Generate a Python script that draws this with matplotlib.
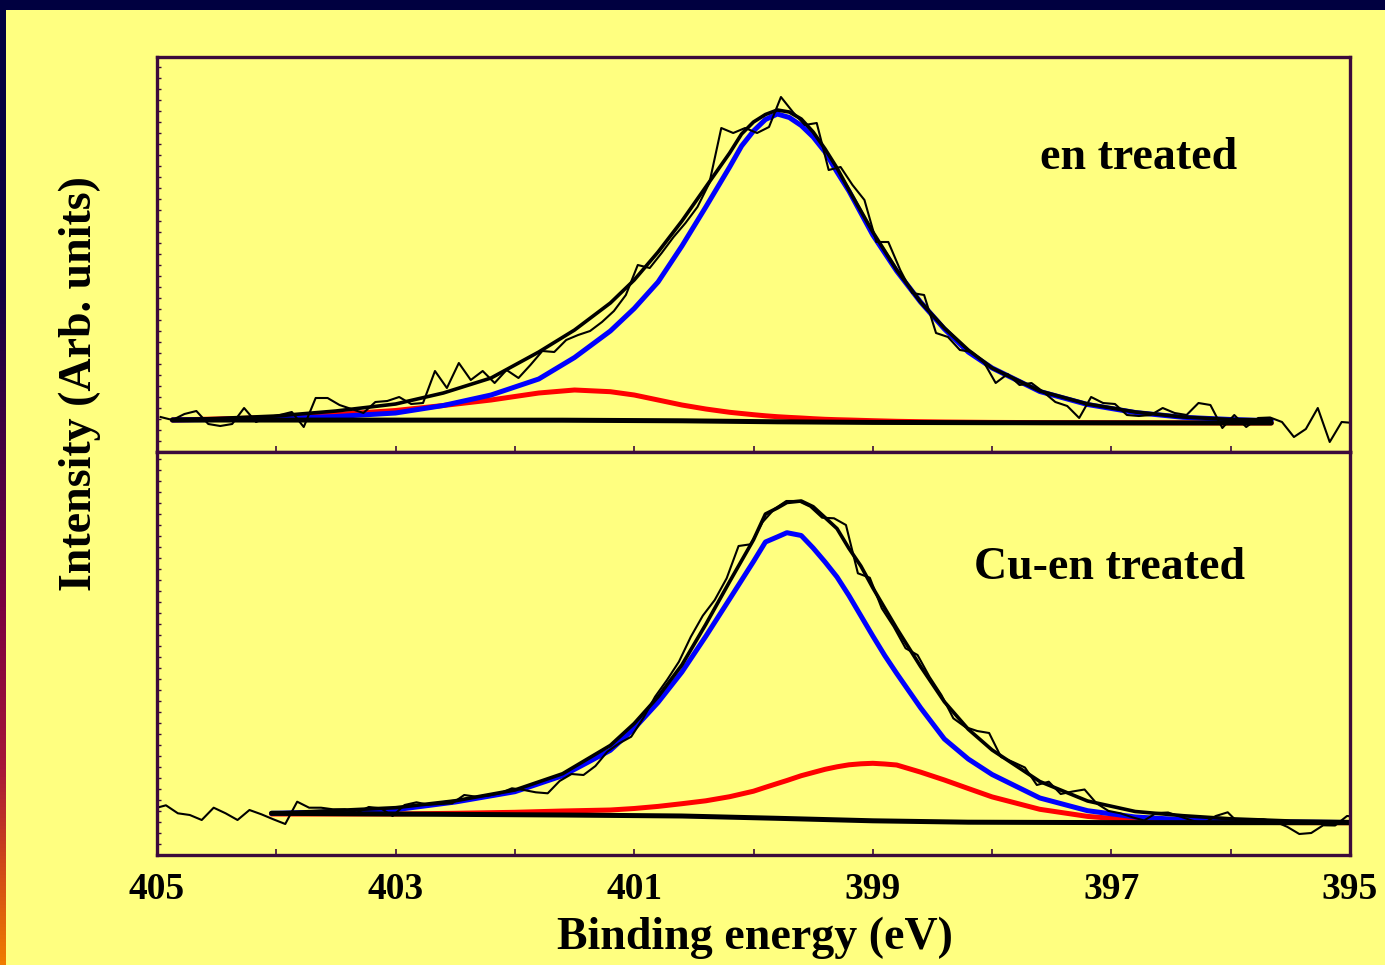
import numpy as np
import matplotlib
matplotlib.use('Agg')
from matplotlib import pyplot as plt
from matplotlib.colors import LinearSegmentedColormap
from matplotlib.patches import Rectangle

# ---- data (binding energy in eV, intensity in arb. units) ----

# en treated: raw spectrum, 0.1 eV steps starting at 404.97 eV
top_raw_start = 404.97
top_raw = [35, 32, 38, 41, 28, 26, 28, 44, 30, 35,
           37, 40, 25, 54, 54, 47, 43, 39, 50, 51,
           55, 48, 49, 81, 64, 89, 72, 81, 69, 82,
           74, 87, 101, 100, 112, 117, 121, 130, 141, 157,
           187, 184, 199, 215, 229, 245, 269, 324, 319, 324,
           319, 325, 355, 340, 327, 329, 282, 285, 267, 252,
           210, 210, 182, 159, 157, 119, 115, 102, 100, 90,
           69, 78, 67, 69, 60, 50, 46, 34, 55, 49,
           48, 37, 36, 37, 44, 39, 37, 49, 47, 24,
           37, 25, 34, 34.5, 30, 15, 23, 44, 10, 30, 29]

# en treated: fitted curves
top_fit_e = [404.87, 404.5, 404.0, 403.5, 403.0, 402.6, 402.2, 401.8, 401.5, 401.2,
             401.0, 400.8, 400.6, 400.4, 400.2, 400.1, 400.0, 399.9, 399.8, 399.7,
             399.6, 399.5, 399.4, 399.3, 399.2, 399.0, 398.8, 398.6, 398.4, 398.2,
             398.0, 397.6, 397.2, 396.8, 396.4, 396.0, 395.66]
top_env = [32, 33.5, 36, 41, 48, 59, 74, 100, 122, 149,
           172, 200, 231, 265, 299, 318, 330, 337.5, 342, 340,
           333, 320, 303, 284, 262, 220, 182, 150, 124, 102,
           84, 61, 48, 40, 35, 32.5, 32]
top_blue = [32, 32.5, 33.3, 35.5, 39, 46.5, 57, 73, 94.5, 121,
            143.5, 170, 206, 245, 285, 306, 321, 332.5, 338, 334.5,
            326.5, 315, 300, 280, 261, 217, 181, 150, 123, 100,
            84, 60.5, 47.5, 39.5, 34.7, 32.5, 31.3]
top_red = [32, 33, 34.5, 37.5, 41.5, 46.5, 52, 59, 62, 60.3,
           57, 52, 47, 43, 39.7, 38.5, 37.3, 36.2, 35.3, 34.6,
           34, 33.3, 32.7, 32.3, 32, 31.3, 30.7, 30.3, 30, 29.8,
           29.6, 29.4, 29.3, 29.2, 29.1, 29, 29]
top_base_e = [404.87, 401.6, 400.6, 399.8, 399.0, 398.0, 395.66]
top_base = [32, 31.8, 31.2, 30.2, 29.6, 29.3, 29]

# Cu-en treated: raw spectrum, 0.1 eV steps starting at 404.925 eV (first point at the frame)
bot_raw_start = 404.925
bot_raw_edge = 47.3
bot_raw = [49.7, 41.7, 40, 35, 47.3, 41.7, 35, 45, 40.7, 35.7,
           31, 53.3, 47.3, 47.3, 45.7, 45.7, 42.3, 48, 46.7, 39,
           50, 52.7, 50.3, 51, 51.7, 60, 58.3, 59.3, 61.7, 66.7,
           65, 62.7, 61.7, 74, 81, 80, 89, 103.3, 111.7, 118.3,
           136.7, 158.3, 175, 193.3, 218.3, 239.3, 255, 276.7, 309, 310.7,
           332.7, 346, 354, 354, 348.3, 337.3, 336.7, 330, 281.7, 277.3,
           246.7, 228.3, 206.7, 200, 178.3, 160, 136.7, 128, 124, 122,
           98, 93, 87.5, 70, 73.3, 61, 63.5, 65.5, 51.7, 44.1,
           41.7, 37.7, 34.5, 42, 42.5, 38.5, 34.5, 31.7, 39, 42.7,
           31, 35.7, 35.7, 33.3, 28.1, 21, 22, 29.7, 29.5, 39, 38]

# Cu-en treated: fitted curves
bot_fit_e = [404.04, 403.5, 403.0, 402.5, 402.0, 401.6, 401.2, 401.0, 400.8, 400.6,
             400.4, 400.2, 400.0, 399.9, 399.8, 399.72, 399.6, 399.5, 399.4, 399.3,
             399.2, 399.1, 399.0, 398.9, 398.8, 398.6, 398.4, 398.2, 398.0, 397.6,
             397.2, 396.8, 396.4, 396.0, 395.5, 395.0]
bot_env = [41.7, 44.5, 47.3, 54.2, 65, 81.3, 109.6, 131.5, 158.2, 190.1,
           230.6, 273.4, 315.2, 341, 347, 352.5, 354, 348.3, 337.4, 326.4,
           306.6, 289, 267.2, 246.9, 226.7, 188.6, 153.2, 125.8, 105, 73.5,
           54, 43.5, 39.3, 36.2, 34, 33.3]
bot_blue = [41.7, 43, 45.3, 53, 63.3, 79.3, 104.7, 126.5, 152.6, 183,
            218.7, 256, 293.5, 313, 318.1, 322.3, 319.5, 307, 293, 278,
            259.4, 239.2, 219, 199.5, 181.6, 147.3, 116, 96, 80.5, 57,
            44.3, 38, 35.3, 34, 33, 32.5]
bot_red = [41, 41, 41, 41.7, 42.7, 44, 45, 46.5, 48.6, 51.3,
           54.2, 58.3, 63.8, 67.7, 71.5, 74.5, 79.3, 82.5, 85.7, 88.2,
           90.2, 91.2, 91.7, 91, 90, 82.9, 75, 66.5, 58.1, 45.7,
           38.6, 34.7, 33.3, 32.7, 32.4, 32.3]
bot_base_e = [404.04, 401.6, 400.6, 399.8, 399.0, 398.2, 397.0, 395.0]
bot_base = [41.7, 40, 39, 36.7, 34.2, 32.8, 32.4, 32.3]

panel_names = ['en treated', 'Cu-en treated']
major_ticks = [405, 403, 401, 399, 397, 395]
minor_ticks = [404, 402, 400, 398, 396]

# ---- styling ----
W, H = 1385, 965
yellow = '#ffff80'
navy = '#000040'
frame = '#3c0a3c'
serif = ['Liberation Serif', 'DejaVu Serif']
plt.rcParams['font.family'] = serif
plt.rcParams['font.weight'] = 'bold'

fig = plt.figure(figsize=(W / 100, H / 100), dpi=100, facecolor=navy)

# background: navy band on top, gradient strip on the left, yellow slide area
bg = fig.add_axes([0, 0, 1, 1])
bg.set_xlim(0, W)
bg.set_ylim(H, 0)
bg.axis('off')
grad = LinearSegmentedColormap.from_list(
    'edge', [(0, navy), (0.3, '#100040'), (0.62, '#780040'),
             (0.8, '#a81838'), (0.9, '#d04818'), (1, '#f07c00')])
bg.imshow(np.linspace(0, 1, 256).reshape(-1, 1), cmap=grad, aspect='auto',
          extent=[0, 6, H, 0])
bg.add_patch(Rectangle((6, 10), W - 6, H - 10, color=yellow, lw=0))

L, R = 157 / W, 1350 / W
ax_top = fig.add_axes([L, 1 - 452 / H, R - L, (452 - 57) / H])
ax_bot = fig.add_axes([L, 1 - 855 / H, R - L, (855 - 452) / H], sharex=ax_top)

fit_kw = dict(solid_capstyle='round', solid_joinstyle='round')


def draw_panel(ax, raw_e, raw_i, fit_e, env, blue, red, base_e, base, ymax, label, lxy):
    ax.set_facecolor(yellow)
    ax.plot(fit_e, red, color='#ff0000', lw=3.6, **fit_kw)
    ax.plot(fit_e, blue, color='#0000ff', lw=3.6, **fit_kw)
    ax.plot(base_e, base, color='black', lw=3.6, **fit_kw)
    ax.plot(fit_e, env, color='black', lw=2.6, **fit_kw)
    ax.plot(raw_e, raw_i, color='black', lw=1.5)
    ax.set_xlim(405, 395)
    ax.set_ylim(0, ymax)
    for s in ax.spines.values():
        s.set_color(frame)
        s.set_linewidth(2.4)
    ax.set_xticks(major_ticks)
    ax.set_xticks(minor_ticks, minor=True)
    ax.tick_params(axis='x', which='both', direction='in', length=4, width=1.2,
                   color=frame, top=False)
    ax.yaxis.set_major_locator(plt.MultipleLocator(11))
    ax.tick_params(axis='y', which='both', direction='in', length=3, width=1,
                   color=frame, labelleft=False)
    ax.text(lxy[0], lxy[1], label, transform=ax.transAxes, ha='center', va='center',
            fontsize=33, fontweight='bold', family=serif)


top_e = [top_raw_start - 0.1 * k for k in range(len(top_raw))]
bot_e = [bot_raw_start + 0.075] + [bot_raw_start - 0.1 * k for k in range(len(bot_raw))]
bot_i = [bot_raw_edge] + bot_raw

draw_panel(ax_top, top_e, top_raw, top_fit_e, top_env, top_blue, top_red,
           top_base_e, top_base, 395, panel_names[0],
           ((1139 - 157) / 1193, (452 - 158) / 395))
draw_panel(ax_bot, bot_e, bot_i, bot_fit_e, bot_env, bot_blue, bot_red,
           bot_base_e, bot_base, 403, panel_names[1],
           ((1110 - 157) / 1193, (855 - 568) / 403))

ax_top.tick_params(axis='x', labelbottom=False)
ax_bot.set_xticklabels([str(t) for t in major_ticks])
ax_bot.tick_params(axis='x', labelsize=27, pad=12)
for t in ax_bot.get_xticklabels():
    t.set_fontweight('bold')

fig.text(755 / W, 1 - 938 / H, 'Binding energy (eV)', ha='center', va='center',
         fontsize=33, fontweight='bold', family=serif)
fig.text(80 / W, 1 - 384 / H, 'Intensity (Arb. units)', ha='center', va='center',
         rotation=90, fontsize=33, fontweight='bold', family=serif)

fig.savefig('out.png', dpi=100, facecolor=navy)
